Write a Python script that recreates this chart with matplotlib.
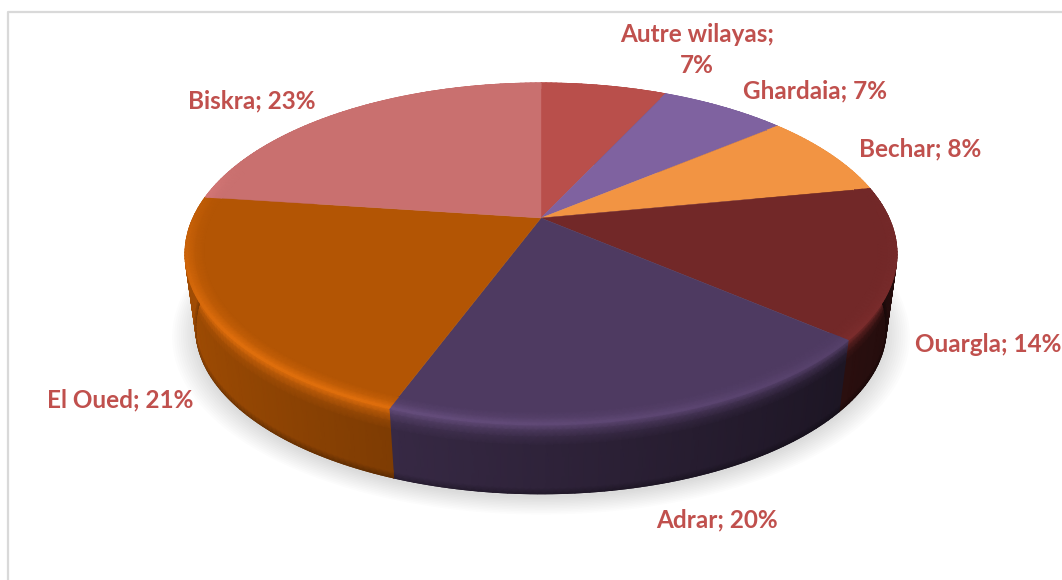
import numpy as np
from matplotlib import pyplot as plt
from matplotlib.colors import to_rgb

plt.rcParams['font.family'] = ['Lato', 'DejaVu Sans']

# clockwise from 12 o'clock
categories = ["Autre wilayas", "Ghardaia", "Bechar", "Ouargla", "Adrar", "El Oued", "Biskra"]
shares = [7, 7, 8, 14.2, 19.5, 21.4, 22.9]
labels = ["Autre wilayas;\n7%", "Ghardaia; 7%", "Bechar; 8%", "Ouargla; 14%",
          "Adrar; 20%", "El Oued; 21%", "Biskra; 23%"]
colors = ["#B94F4B", "#7F62A0", "#F29443", "#722828", "#4E3A61", "#B35504", "#C9706F"]
label_pos = [(697, 50), (815, 91), (920, 149), (988, 344), (717, 520), (120, 400), (252, 101)]

text_color = "#C0504D"
frame_color = "#D9D9D9"

# projection of the disc, pixels
cx, cy = 541, 218
kx, ky, persp = 348, 163.4, 0.2105
depth, depth_scale = 75, 0.97


def project(theta, r=1.0, t=0.0):
    # theta clockwise from top, t = 0 top face, 1 bottom of the side
    u = r * np.sin(theta)
    v = -r * np.cos(theta)
    w = 1 - persp * v
    x = kx * u / w
    y = ky * v / w
    scale = 1 + (depth_scale - 1) * t
    return cx + x * scale, cy + y * scale + depth * t


def add_mesh(ax, outlines, rgb, zorder):
    # outlines: list of (x, y) per level, rgb: levels x points x 3
    X = np.array([o[0] for o in outlines])
    Y = np.array([o[1] for o in outlines])
    ax.pcolormesh(X, Y, np.clip(rgb, 0, 1), shading="gouraud", zorder=zorder)


fig = plt.figure(figsize=(10.62, 5.8), dpi=100)
ax = fig.add_axes([0, 0, 1, 1])

# chart frame, only top and left show in the crop
ax.plot([8, 8, 1062], [580, 12, 12], color=frame_color, lw=1.6, zorder=1)

# soft shadow under the pie
all_theta = np.linspace(0, 2 * np.pi, 361)
for i in range(12):
    r = 1.065 - 0.006 * i
    sx, sy = project(all_theta, r=r, t=1.0)
    ax.fill(sx, sy + 4, color="black", alpha=0.011, lw=0, zorder=2)

edges = np.cumsum([0] + shares) / sum(shares) * 2 * np.pi

for k, name in enumerate(categories):
    base = np.array(to_rgb(colors[k]))
    n = max(int(np.degrees(edges[k + 1] - edges[k])), 2)
    theta = np.linspace(edges[k], edges[k + 1], n + 1)
    u = np.sin(theta)
    v = -np.cos(theta)
    side = np.clip(0.6 - 0.3 * u, 0, 1)[:, None] * base
    glow = (np.clip(v + 0.35, 0, 1) * np.clip(0.75 - 0.6 * u, 0, 1))[:, None]
    rim = base * (1 + 0.2 * glow) + 0.03 * glow

    # keep the foot of the wall clean, gouraud has no antialiasing
    fx, fy = project(theta, t=1.0)
    ax.plot(fx, fy, color=np.clip(side.mean(axis=0) * 0.75, 0, 1), lw=0.8, zorder=2.5)

    # side wall, from the rim colour down to a slightly darker foot
    ts = [0, 0.08, 0.18, 0.3, 0.92, 1]
    mix = [0.95, 0.55, 0.2, 0, 0, 0]
    foot = [1, 1, 1, 1, 1, 0.72]
    rgb = np.array([(side * (1 - m) + rim * m) * f for m, f in zip(mix, foot)])
    add_mesh(ax, [project(theta, t=t) for t in ts], rgb, 3 + k * 0.01)

    # top face
    px, py = project(theta)
    ax.fill(np.r_[cx, px], np.r_[cy, py], color=colors[k], lw=0.3, zorder=4)

    # bevel near the rim, strongest on the front left
    rs = [0.95, 0.975, 0.993, 1.0]
    lift = [0, 0.4, 1, 1]
    rgb = np.array([base * (1 - m) + rim * m for m in lift])
    add_mesh(ax, [project(theta, r=r) for r in rs], rgb, 5)

for text, (lx, ly) in zip(labels, label_pos):
    ax.text(lx, ly, text, color=text_color, fontsize=17.5, fontweight="bold",
            ha="center", va="center", linespacing=1.4, zorder=6)

ax.set_xlim(0, 1062)
ax.set_ylim(580, 0)
ax.axis("off")

fig.savefig("out.png", dpi=100, facecolor="white")
